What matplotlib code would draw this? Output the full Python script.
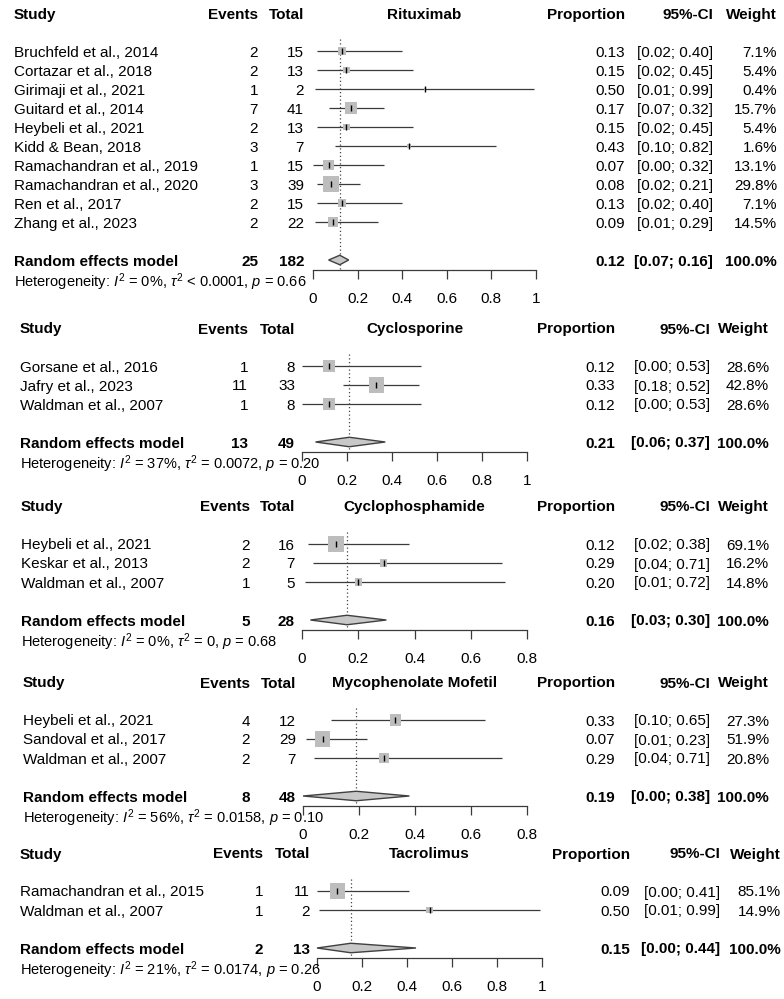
import matplotlib
matplotlib.use('Agg')
import matplotlib.pyplot as plt
from matplotlib.patches import Polygon
from matplotlib.transforms import blended_transform_factory
import numpy as np

plt.rcParams['font.family'] = ['Liberation Sans', 'DejaVu Sans']
plt.rcParams['mathtext.fontset'] = 'custom'
plt.rcParams['mathtext.rm'] = 'Liberation Sans'
plt.rcParams['mathtext.it'] = 'Liberation Sans:italic'
plt.rcParams['mathtext.bf'] = 'Liberation Sans:bold'

W, H = 784, 999   # figure size in px (dpi 100)
ROW = 19          # px between rows

# ---------------- data ----------------
rit_studies = ['Bruchfeld et al., 2014', 'Cortazar et al., 2018', 'Girimaji et al., 2021',
               'Guitard et al., 2014', 'Heybeli et al., 2021', 'Kidd & Bean, 2018',
               'Ramachandran et al., 2019', 'Ramachandran et al., 2020', 'Ren et al., 2017',
               'Zhang et al., 2023']
rit_events = [2, 2, 1, 7, 2, 3, 1, 3, 2, 2]
rit_total = [15, 13, 2, 41, 13, 7, 15, 39, 15, 22]
rit_prop = [0.13, 0.15, 0.50, 0.17, 0.15, 0.43, 0.07, 0.08, 0.13, 0.09]
rit_lo = [0.02, 0.02, 0.01, 0.07, 0.02, 0.10, 0.00, 0.02, 0.02, 0.01]
rit_hi = [0.40, 0.45, 0.99, 0.32, 0.45, 0.82, 0.32, 0.21, 0.40, 0.29]
rit_weight = [7.1, 5.4, 0.4, 15.7, 5.4, 1.6, 13.1, 29.8, 7.1, 14.5]
rit_pooled = (25, 182, 0.12, 0.07, 0.16)
rit_het = ('0%', '< 0.0001', '0.66')

cyc_studies = ['Gorsane et al., 2016', 'Jafry et al., 2023', 'Waldman et al., 2007']
cyc_events = [1, 11, 1]
cyc_total = [8, 33, 8]
cyc_prop = [0.12, 0.33, 0.12]
cyc_lo = [0.00, 0.18, 0.00]
cyc_hi = [0.53, 0.52, 0.53]
cyc_weight = [28.6, 42.8, 28.6]
cyc_pooled = (13, 49, 0.21, 0.06, 0.37)
cyc_het = ('37%', '= 0.0072', '0.20')

cph_studies = ['Heybeli et al., 2021', 'Keskar et al., 2013', 'Waldman et al., 2007']
cph_events = [2, 2, 1]
cph_total = [16, 7, 5]
cph_prop = [0.12, 0.29, 0.20]
cph_lo = [0.02, 0.04, 0.01]
cph_hi = [0.38, 0.71, 0.72]
cph_weight = [69.1, 16.2, 14.8]
cph_pooled = (5, 28, 0.16, 0.03, 0.30)
cph_het = ('0%', '= 0', '0.68')

mmf_studies = ['Heybeli et al., 2021', 'Sandoval et al., 2017', 'Waldman et al., 2007']
mmf_events = [4, 2, 2]
mmf_total = [12, 29, 7]
mmf_prop = [0.33, 0.07, 0.29]
mmf_lo = [0.10, 0.01, 0.04]
mmf_hi = [0.65, 0.23, 0.71]
mmf_weight = [27.3, 51.9, 20.8]
mmf_pooled = (8, 48, 0.19, 0.00, 0.38)
mmf_het = ('56%', '= 0.0158', '0.10')

tac_studies = ['Ramachandran et al., 2015', 'Waldman et al., 2007']
tac_events = [1, 1]
tac_total = [11, 2]
tac_prop = [0.09, 0.50]
tac_lo = [0.00, 0.01]
tac_hi = [0.41, 0.99]
tac_weight = [85.1, 14.9]
tac_pooled = (2, 13, 0.15, 0.00, 0.44)
tac_het = ('21%', '= 0.0174', '0.26')

titles = ['Rituximab', 'Cyclosporine', 'Cyclophosphamide', 'Mycophenolate Mofetil', 'Tacrolimus']
axis_max = [1.0, 1.0, 0.8, 0.8, 1.0]

panels = [
    dict(studies=rit_studies, events=rit_events, total=rit_total, prop=rit_prop,
         lo=rit_lo, hi=rit_hi, weight=rit_weight, pooled=rit_pooled, het=rit_het),
    dict(studies=cyc_studies, events=cyc_events, total=cyc_total, prop=cyc_prop,
         lo=cyc_lo, hi=cyc_hi, weight=cyc_weight, pooled=cyc_pooled, het=cyc_het),
    dict(studies=cph_studies, events=cph_events, total=cph_total, prop=cph_prop,
         lo=cph_lo, hi=cph_hi, weight=cph_weight, pooled=cph_pooled, het=cph_het),
    dict(studies=mmf_studies, events=mmf_events, total=mmf_total, prop=mmf_prop,
         lo=mmf_lo, hi=mmf_hi, weight=mmf_weight, pooled=mmf_pooled, het=mmf_het),
    dict(studies=tac_studies, events=tac_events, total=tac_total, prop=tac_prop,
         lo=tac_lo, hi=tac_hi, weight=tac_weight, pooled=tac_pooled, het=tac_het),
]

# ---------------- layout (px) ----------------
layouts = [
    dict(head=13, study=14, ev=258, tot=304, axis=(313, 536), prop=625, ci=713, w=777),
    dict(head=328, study=20, ev=248, tot=295, axis=(302, 527), prop=615, ci=710, w=769),
    dict(head=506, study=21, ev=250, tot=295, axis=(302, 527), prop=615, ci=710, w=769),
    dict(head=682, study=23, ev=250, tot=296, axis=(303, 527), prop=615, ci=710, w=769),
    dict(head=853, study=20, ev=263, tot=310, axis=(317, 542), prop=630, ci=720, w=781),
]

FS = 11
HET_FS = 10.5
BOX_MAX = 15.5   # px side of the largest box
LINE_C = '#3a3a3a'

fig = plt.figure(figsize=(W / 100, H / 100), dpi=100)
fig.patch.set_facecolor('white')


def draw_panel(d, lay, title, xmax):
    n = len(d['studies'])
    top_px = lay['head'] - 0.5 * ROW
    bot_px = lay['head'] + (n + 3.5) * ROW
    x0, x1 = lay['axis']
    ax = fig.add_axes([x0 / W, 1 - bot_px / H, (x1 - x0) / W, (bot_px - top_px) / H])
    ax.set_xlim(0, xmax)
    ax.set_ylim(n + 3.5, -0.5)
    ax.patch.set_alpha(0)

    tf = blended_transform_factory(fig.transFigure, ax.transData)
    ta = blended_transform_factory(ax.transAxes, ax.transData)

    def txt(xpx, y, s, ha, bold=False, size=FS):
        ax.text(xpx / W, y, s, transform=tf, ha=ha, va='center_baseline',
                fontsize=size, fontweight='bold' if bold else 'normal', clip_on=False)

    # header
    txt(lay['study'], 0, 'Study', 'left', True)
    txt(lay['ev'], 0, 'Events', 'right', True)
    txt(lay['tot'], 0, 'Total', 'right', True)
    ax.text(0.5, 0, title, transform=ta, ha='center', va='center_baseline',
            fontsize=FS, fontweight='bold', clip_on=False)
    txt(lay['prop'], 0, 'Proportion', 'right', True)
    txt(lay['ci'], 0, '95%-CI', 'right', True)
    txt(lay['w'], 0, 'Weight', 'right', True)

    rows = np.arange(n) + 2
    wts = np.array(d['weight'])
    for i, r in enumerate(rows):
        txt(lay['study'], r, d['studies'][i], 'left')
        txt(lay['ev'], r, str(d['events'][i]), 'right')
        txt(lay['tot'], r, str(d['total'][i]), 'right')
        txt(lay['prop'], r, f"{d['prop'][i]:.2f}", 'right')
        txt(lay['ci'], r, f"[{d['lo'][i]:.2f}; {d['hi'][i]:.2f}]", 'right')
        txt(lay['w'], r, f"{d['weight'][i]:.1f}%", 'right')

    # study CIs, boxes, point ticks
    ax.hlines(rows, d['lo'], d['hi'], color=LINE_C, lw=0.9, zorder=1, clip_on=False)
    side = BOX_MAX * np.sqrt(wts / wts.max()) * 0.72
    ax.scatter(d['prop'], rows, s=side ** 2, marker='s', color='#bdbdbd',
               linewidths=0, zorder=2, clip_on=False)
    ax.plot(d['prop'], rows, ls='none', marker='|', ms=4.5, mew=1.0,
            color='black', zorder=3, clip_on=False)

    # pooled
    ev, tot, est, lo, hi = d['pooled']
    pr = n + 3
    ax.vlines(est, 1.35, n + 3.5, color='#444444', lw=0.9,
              linestyles=(0, (1, 2)), zorder=1.5, clip_on=False)
    dh = 0.25
    ax.add_patch(Polygon([(lo, pr), (est, pr - dh), (hi, pr), (est, pr + dh)],
                         closed=True, fc='#c8c8c8', ec='#404040', lw=1.0,
                         zorder=3, clip_on=False))
    txt(lay['study'], pr, 'Random effects model', 'left', True)
    txt(lay['ev'], pr, str(ev), 'right', True)
    txt(lay['tot'], pr, str(tot), 'right', True)
    txt(lay['prop'], pr, f'{est:.2f}', 'right', True)
    txt(lay['ci'], pr, f'[{lo:.2f}; {hi:.2f}]', 'right', True)
    txt(lay['w'], pr, '100.0%', 'right', True)

    i2, tau2, p = d['het']
    het = 'Heterogeneity: $I^2$ = ' + i2 + r', $\tau^2$ ' + tau2 + ', $p$ = ' + p
    txt(lay['study'], n + 4, het, 'left', size=HET_FS)

    # axis
    for s in ['top', 'left', 'right']:
        ax.spines[s].set_visible(False)
    ax.spines['bottom'].set_bounds(0, xmax)
    ax.spines['bottom'].set_color(LINE_C)
    ax.spines['bottom'].set_linewidth(0.9)
    ticks = np.round(np.arange(0, xmax + 1e-9, 0.2), 1)
    ax.set_xticks(ticks)
    ax.set_xticklabels([f'{t:g}' for t in ticks])
    ax.tick_params(axis='x', direction='out', length=6.5, width=0.9, color=LINE_C,
                   pad=10, labelsize=FS)
    ax.set_yticks([])


for d, lay, title, xmax in zip(panels, layouts, titles, axis_max):
    draw_panel(d, lay, title, xmax)

fig.savefig('out.png', dpi=100, facecolor='white')
